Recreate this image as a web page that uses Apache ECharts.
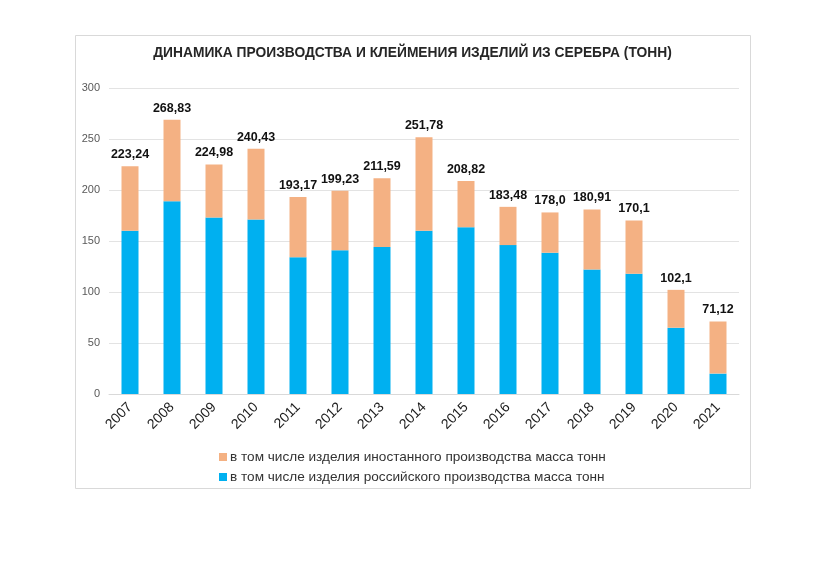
<!DOCTYPE html>
<html><head><meta charset="utf-8">
<script src="https://cdn.jsdelivr.net/npm/echarts@6/dist/echarts.min.js"></script>
<style>html,body{margin:0;padding:0;background:#fff}#c{width:825px;height:583px}</style>
</head><body><div id="c"></div>
<script>
var years = ['2007','2008','2009','2010','2011','2012','2013','2014','2015','2016','2017','2018','2019','2020','2021'];
var russian = [160, 189, 173, 171, 134, 141, 144, 160, 163.5, 146, 138.5, 122, 118, 65, 20];
var foreign = [63.24, 79.83, 51.98, 69.43, 59.17, 58.23, 67.59, 91.78, 45.32, 37.48, 39.5, 58.91, 52.1, 37.1, 51.12];
var totalLabels = ['223,24','268,83','224,98','240,43','193,17','199,23','211,59','251,78','208,82','183,48','178,0','180,91','170,1','102,1','71,12'];
var yTicks = [0, 50, 100, 150, 200, 250, 300];
var titleText = 'ДИНАМИКА ПРОИЗВОДСТВА И КЛЕЙМЕНИЯ ИЗДЕЛИЙ ИЗ СЕРЕБРА (ТОНН)';
var nameForeign = 'в том числе изделия иностанного производства масса тонн';
var nameRussian = 'в том числе изделия российского производства масса тонн';

var chart = echarts.init(document.getElementById('c'));
chart.setOption({
  animation: false,
  backgroundColor: '#fff',
  textStyle: {fontFamily: 'Liberation Sans, Arial, sans-serif'},
  graphic: [{type:'rect', shape:{x:75.5, y:35.5, width:675, height:453}, style:{fill:'none', stroke:'#d9d9d9', lineWidth:1}, silent:true}],
  title: {text: titleText, left: 'center', top: 41,
    textStyle: {fontSize: 13.8, fontWeight: 'bold', color: '#262626', fontFamily: 'Liberation Sans, Arial, sans-serif'}},
  grid: {left: 109, right: 86, top: 88, bottom: 189},
  legend: {orient: 'vertical', left: 214, top: 445, icon: 'rect', itemWidth: 8, itemHeight: 8, itemGap: 6,
    data: [nameForeign, nameRussian],
    textStyle: {fontSize: 13.6, color: '#333', padding: [0,0,0,-2]}},
  xAxis: {type: 'category', data: years,
    axisLine: {lineStyle: {color: '#d9d9d9'}}, axisTick: {show: false},
    axisLabel: {rotate: 45, fontSize: 14, color: '#1a1a1a', margin: 11, interval: 0}},
  yAxis: {type: 'value', min: yTicks[0], max: yTicks[yTicks.length-1], interval: 50,
    axisLine: {show: false}, axisTick: {show: false},
    axisLabel: {fontSize: 11, color: '#595959', margin: 9},
    splitLine: {lineStyle: {color: '#e3e3e3'}}},
  series: [
    {name: nameRussian, type: 'bar', stack: 't', data: russian, barWidth: 17,
      itemStyle: {color: '#00B0F0'}},
    {name: nameForeign, type: 'bar', stack: 't', data: foreign, barWidth: 17,
      itemStyle: {color: '#F4B183'},
      label: {show: true, position: 'top', distance: 5, fontSize: 12.5, fontWeight: 'bold', color: '#111',
        formatter: function(p){ return totalLabels[p.dataIndex]; }}}
  ]
});
</script></body></html>
